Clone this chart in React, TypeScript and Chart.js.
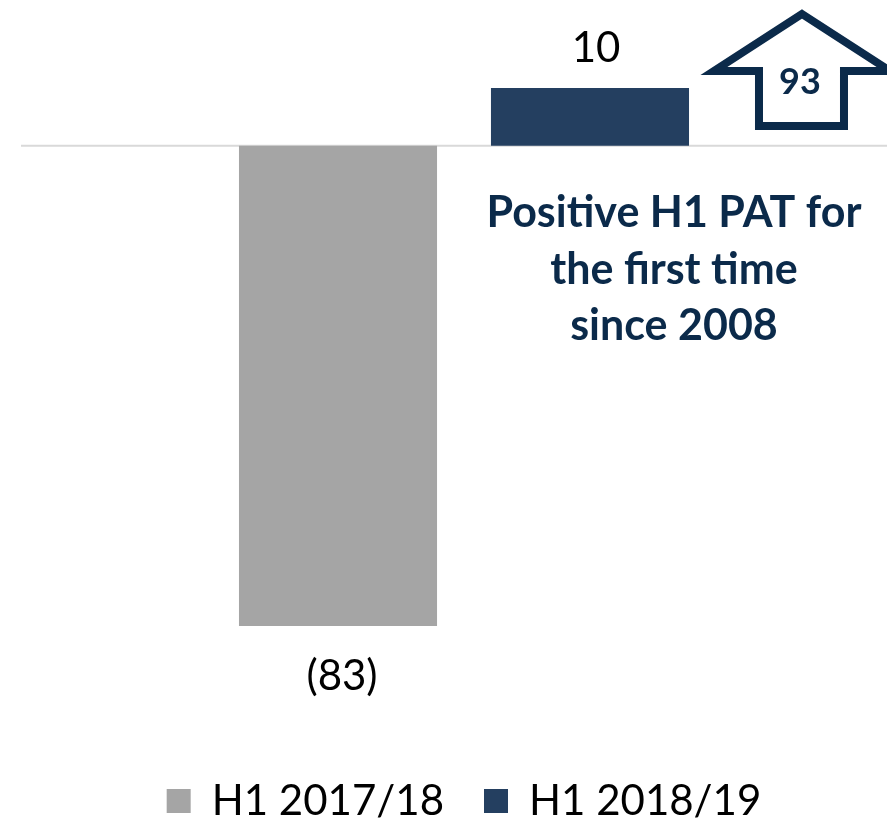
import React, { useEffect, useRef } from "react";
import { Chart, registerables } from "chart.js";

Chart.register(...registerables);

const categories = ["H1 PAT"];
const seriesNames = ["H1 2017/18", "H1 2018/19"];
const prevValues = [-83];
const currValues = [10];
const valueLabels = ["(83)", "10"];
const improvement = "93";
const noteLines = ["Positive H1 PAT for", "the first time", "since 2008"];

const GRAY = "#a5a5a5";
const NAVY = "#243f60";
const DARK = "#0b2a4a";
const FONT = "Lato, 'Open Sans', sans-serif";

const overlayPlugin = {
  id: "overlay",
  beforeDatasetsDraw(chart: any) {
    const { ctx } = chart;
    const y0 = chart.scales.y.getPixelForValue(0);
    ctx.save();
    ctx.strokeStyle = "#d9d9d9";
    ctx.lineWidth = 2;
    ctx.beginPath();
    ctx.moveTo(21, y0);
    ctx.lineTo(chart.width, y0);
    ctx.stroke();
    ctx.restore();
  },
  afterDatasetsDraw(chart: any) {
    const { ctx } = chart;
    ctx.save();
    ctx.fillStyle = "#000";
    ctx.font = `42px ${FONT}`;
    ctx.textAlign = "center";
    ctx.textBaseline = "alphabetic";
    const prevBar = chart.getDatasetMeta(0).data[0];
    const currBar = chart.getDatasetMeta(1).data[0];
    if (prevBar) ctx.fillText(valueLabels[0], prevBar.x + 4, prevBar.y + 64);
    if (currBar) ctx.fillText(valueLabels[1], currBar.x + 6, currBar.y - 26);

    if (currBar) {
      ctx.fillStyle = DARK;
      ctx.font = `bold 43px ${FONT}`;
      const cx = currBar.x + 84;
      const baseY = currBar.y + 139;
      noteLines.forEach((t, i) => ctx.fillText(t, cx, baseY + i * 56.5));

      const ax = currBar.x;
      ctx.strokeStyle = DARK;
      ctx.lineWidth = 8;
      ctx.lineJoin = "miter";
      ctx.miterLimit = 10;
      ctx.beginPath();
      ctx.moveTo(ax + 212, 14);
      ctx.lineTo(ax + 300, 71);
      ctx.lineTo(ax + 254, 71);
      ctx.lineTo(ax + 254, 126);
      ctx.lineTo(ax + 169, 126);
      ctx.lineTo(ax + 169, 71);
      ctx.lineTo(ax + 124, 71);
      ctx.closePath();
      ctx.stroke();
      ctx.fillStyle = DARK;
      ctx.font = `bold 36px ${FONT}`;
      ctx.fillText(improvement, ax + 210, 94);
    }
    ctx.restore();
  },
};

export default function App() {
  const ref = useRef<HTMLCanvasElement | null>(null);
  useEffect(() => {
    if (!ref.current) return;
    const chart = new Chart(ref.current, {
      type: "bar",
      data: {
        labels: categories,
        datasets: [
          { label: seriesNames[0], data: prevValues, backgroundColor: GRAY, borderWidth: 0 },
          { label: seriesNames[1], data: currValues, backgroundColor: NAVY, borderWidth: 0 },
        ],
      },
      options: {
        animation: false,
        responsive: false,
        maintainAspectRatio: false,
        layout: { padding: { top: 88, left: 41, right: 0, bottom: 0 } },
        datasets: {
          bar: { categoryPercentage: 0.5957, barPercentage: 0.786 },
        },
        scales: {
          x: {
            display: true,
            grid: { display: false },
            border: { display: false },
            ticks: { display: false },
            afterFit: (s: any) => {
              s.height = 114;
            },
          },
          y: { display: false, min: -83, max: 10 },
        },
        plugins: {
          legend: {
            display: true,
            position: "bottom",
            labels: {
              boxWidth: 24,
              boxHeight: 24,
              color: "#000",
              padding: 40,
              font: { family: FONT, size: 42 },
            },
          },
          tooltip: { enabled: false },
        },
      },
      plugins: [overlayPlugin],
    });
    return () => chart.destroy();
  }, []);
  return (
    <div style={{ position: "absolute", left: 0, top: 0, width: 887, height: 825, overflow: "hidden" }}>
      <canvas ref={ref} width={887} height={832} style={{ display: "block" }} />
    </div>
  );
}
